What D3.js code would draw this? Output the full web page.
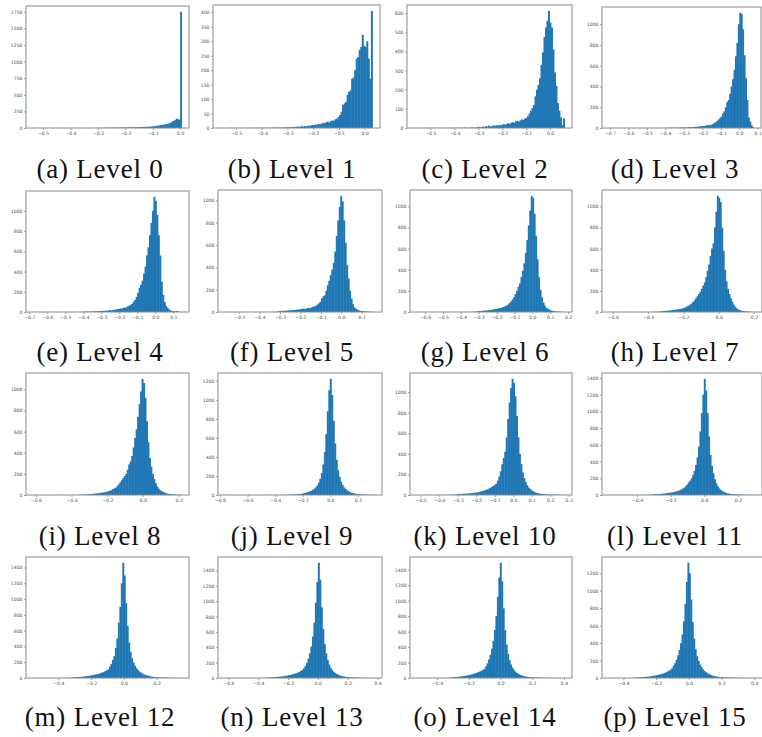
<!DOCTYPE html>
<html>
<head>
<meta charset="utf-8">
<script src="https://cdn.jsdelivr.net/npm/d3@7"></script>
<style>
  body { margin: 0; background: #fff; }
  svg { display: block; }
</style>
</head>
<body>
<svg id="fig" width="762" height="737"></svg>
<script>
// captions
const letters = ["a","b","c","d","e","f","g","h","i","j","k","l","m","n","o","p"];
const levels = ["Level 0","Level 1","Level 2","Level 3","Level 4","Level 5","Level 6","Level 7",
                "Level 8","Level 9","Level 10","Level 11","Level 12","Level 13","Level 14","Level 15"];

// histogram range (first bin start, last bin end) per level, 100 bins each
const binLo = [-0.535,-0.560,-0.566,-0.704,-0.677,-0.567,-0.643,-0.620,-0.614,-0.760,-0.518,-0.565,-0.552,-0.620,-0.524,-0.486];
const binHi = [ 0.005, 0.030, 0.060, 0.079, 0.146, 0.163, 0.181, 0.204, 0.216, 0.320, 0.278, 0.300, 0.352, 0.380, 0.404, 0.415];

// bin counts
const counts0 = [1,0,0,0,0,0,0,0,0,0, 0,0,0,0,0,1,0,0,0,0, 0,0,0,0,0,0,1,0,0,0, 0,0,0,0,0,0,0,1,0,1,
  0,1,2,1,2,3,2,3,4,3, 4,3,5,4,5,6,5,7,6,7, 8,7,9,8,10,9,11,10,12,11, 13,14,13,15,16,17,18,20,19,22,
  25,27,30,33,38,42,46,50,52,56, 62,70,80,95,108,118,140,132,125,1750];
const counts1 = [1,0,0,0,0,0,1,0,0,0, 1,0,0,1,0,0,1,0,1,0, 0,1,0,1,0,1,1,0,1,0, 1,1,0,1,1,2,1,1,2,1, 2,1,2,2,
  2,3,2,3,4,3,5,4,5,6,5,7,6,8,7,9,10,
  10,12,11,14,13,15,18,16,20,22,19,24,26,25,30,32,38,
  45,55,80,85,90,115,125,130,170,175,200,240,245,270,280,322,285,280,300,240,170,405];
const counts2 = [1,0,0,1,0,0,0,1,0,0, 1,0,0,1,0,1,0,0,1,0, 1,0,1,1,0,1,0,1,1,0, 2,1,1,2,1,0,2,1,3,2, 1,3,
  6,3,5,8,4,10,7,12,9,8,14,10,15,12,16,14,
  18,20,17,22,25,20,28,30,27,35,38,33,40,45,42,50,
  52,62,75,90,105,120,165,200,225,260,330,395,475,525,560,612,550,525,410,290,220,130,90,55,15,50];
const counts3 = [1,0,0,0,0,0,0,0,0,0, 0,0,1,0,0,0,0,0,0,0, 0,1,0,0,0,0,0,1,0,0, 0,0,1,0,0,1,0,0,
  1,2,1,2,3,2,3,2,4,3,4,5,4,
  5,6,4,7,8,6,10,9,12,11,14,15,18,
  20,18,22,25,28,26,32,38,45,55,65,80,95,
  110,140,160,200,250,270,330,400,470,560,690,820,1000,1110,1100,950,700,480,270,100,60,25,10];
const counts4 = [1,0,0,0,0,0,0,0,0,0, 0,0,0,0,1,0,0,0,0,0, 0,0,1,0,0,0,0,1,0,0, 1,0,1,
  2,3,4,3,5,4,6,5,7,6,8,9,
  10,12,9,14,12,16,18,15,20,22,25,28,
  30,35,32,40,45,42,55,60,70,80,100,120,
  150,190,240,270,310,380,450,560,640,760,880,1000,1140,1100,960,760,560,300,170,100,60,40,25,15,10,8,5,10,3,2,1];
const counts5 = [1,0,0,0,0,0,0,0,0,0, 0,0,0,1,0,0,0,0,0,0, 1,0,0,0,0,1,0,0,1,0, 0,1,2,1,3,5,
  8,10,9,12,11,13,15,14,16,18,17,20,22,24,
  25,28,30,27,33,36,35,40,45,50,55,65,75,
  90,120,140,150,190,240,280,330,380,440,540,680,820,940,1040,990,820,620,420,300,190,120,70,40,28,20,14,10,8,6,5,4,3,2,2,1,1];
const counts6 = [1,0,0,0,0,0,0,0,0,0, 0,0,0,0,0,0,1,0,0,0, 0,0,0,1,0,0,0,0,1,0, 0,1,0,1,1,2,1,3,2,4,5,
  8,10,9,12,13,15,14,17,19,21,24,27,
  30,32,35,38,42,48,55,62,70,85,100,120,
  140,170,200,240,270,330,390,460,560,680,820,960,1100,1080,930,720,500,330,210,140,90,60,40,30,22,16,12,9,7,5,4,3,2,2,1];
const counts7 = [1,0,0,0,0,0,0,0,0,0, 0,0,0,0,1,0,0,0,0,0, 0,1,0,0,0,1,0,0,1,0, 2,1,3,2,4,5,7,
  10,11,12,14,13,16,18,20,22,24,26,28,30,
  35,40,45,55,60,70,80,95,110,130,150,170,
  190,220,250,280,330,390,450,530,600,650,800,950,1100,1080,1040,800,580,400,290,220,170,130,100,70,50,35,25,18,14,10,8,6,5,4,3,2,1,1];
const counts8 = [1,0,0,0,0,0,0,0,0,0, 0,0,0,0,0,1,0,0,0,0, 0,0,1,0,0,0,1,0,1,0, 1,2,1,3,2,4,6,
  8,9,10,12,13,15,16,18,20,22,25,27,
  30,35,40,45,55,62,70,85,100,120,140,160,
  180,200,240,290,320,370,450,540,620,740,860,980,1100,1060,920,700,500,350,270,200,150,110,80,60,45,35,28,22,16,12,10,8,6,5,4,3,2,2,1];
const counts9 = [1,0,0,0,0,0,0,0,0,0, 0,0,0,0,0,1,0,0,0,0, 0,0,0,0,0,0,1,0,0,0, 0,0,1,0,0,0,1,0,1,1,
  2,1,3,2,4,3,5,6,8,10,12,14,
  18,22,26,32,38,45,55,65,
  80,100,130,170,230,320,450,640,880,1100,1220,1050,780,540,370,260,190,140,105,80,
  62,48,38,30,24,19,15,12,10,8,6,5,4,3,3,2,2,1,1,1];
const counts10 = [1,0,0,0,0,0,0,1,0,0, 0,0,1,0,0,0,1,0,1,0, 1,2,1,2,3,4,5,
  8,9,10,11,12,13,14,15,16,18,20,21,23,
  25,28,32,35,40,45,50,55,62,70,78,88,98,
  110,140,180,230,300,360,420,560,740,900,1040,1130,1090,960,770,560,400,300,220,165,
  125,95,72,58,46,36,29,23,18,15,12,10,9,8,7,6,5,4,4,3,3,2,2,2,1,1,1];
const counts11 = [1,0,0,0,0,0,0,0,0,1, 0,0,0,0,1,0,0,0,1,0, 0,1,0,1,0,2,1,3,4,6,
  8,9,10,11,12,14,15,17,19,22,25,27,
  30,33,36,40,45,50,58,66,76,88,105,125,
  150,170,200,240,290,360,450,580,760,980,1200,1390,1250,980,700,480,350,260,190,140,
  105,80,62,48,38,30,24,19,15,12,10,8,7,6,5,4,4,3,3,2,2,2,1,1,1,1];
const counts12 = [1,0,0,0,0,0,0,0,1,0, 0,0,0,1,0,0,0,1,0,1, 0,2,1,2,3,4,6,8,
  10,11,13,14,16,18,20,22,25,28,32,
  35,38,42,46,50,55,62,70,78,88,98,
  110,145,180,230,280,380,500,700,900,1200,1460,1300,950,660,450,330,250,195,155,125,
  100,82,68,56,46,38,32,27,22,18,15,13,11,9,8,7,6,5,5,4,3,3,2,2,2,1,1,1,0,1];
const counts13 = [1,0,0,0,0,0,0,0,0,0, 1,0,0,0,0,0,1,0,0,1, 0,0,1,0,1,2,1,3,4,6,
  8,10,11,12,14,15,17,19,22,25,28,
  32,36,40,45,50,56,63,70,80,92,105,
  125,155,195,250,320,410,540,720,980,1250,1500,1280,920,640,440,320,235,175,135,105,
  82,65,52,42,34,28,23,19,16,13,11,9,8,7,6,5,4,4,3,3,2,2,2,1,1,1,0,1];
const counts14 = [1,0,0,0,0,0,0,1,0,0, 0,0,1,0,0,1,0,1,0,2, 1,3,4,6,
  10,11,13,15,17,19,22,25,28,32,
  35,40,45,50,56,62,70,78,86,95,105,
  120,150,190,240,300,380,480,620,800,1050,1300,1490,1250,900,620,430,310,230,175,135,
  105,82,65,52,42,34,28,23,19,16,13,11,9,8,7,6,5,4,4,3,3,2,2,2,1,1,1,1,0,1,0,1,0,0,1];
const counts15 = [1,0,0,0,0,1,0,0,0,0, 1,0,0,1,0,1,2,3,4,6,
  8,9,10,11,12,14,16,18,21,24,27,
  30,34,38,42,47,52,58,65,74,84,95,
  110,140,170,210,260,320,400,500,650,850,1100,1320,1200,900,640,450,330,250,195,155,
  125,100,82,67,55,45,37,30,25,21,17,14,12,10,9,8,7,6,5,5,4,4,3,3,2,2,2,2,1,1,1,1,1,0,1,0,1,1];
const allCounts = [counts0,counts1,counts2,counts3,counts4,counts5,counts6,counts7,
                   counts8,counts9,counts10,counts11,counts12,counts13,counts14,counts15];

// tick labels
const xTicks = [
  [-0.5,-0.4,-0.3,-0.2,-0.1,0.0],
  [-0.5,-0.4,-0.3,-0.2,-0.1,0.0],
  [-0.5,-0.4,-0.3,-0.2,-0.1,0.0],
  [-0.7,-0.6,-0.5,-0.4,-0.3,-0.2,-0.1,0.0,0.1],
  [-0.7,-0.6,-0.5,-0.4,-0.3,-0.2,-0.1,0.0,0.1],
  [-0.5,-0.4,-0.3,-0.2,-0.1,0.0,0.1],
  [-0.6,-0.5,-0.4,-0.3,-0.2,-0.1,0.0,0.1,0.2],
  [-0.6,-0.4,-0.2,0.0,0.2],
  [-0.6,-0.4,-0.2,0.0,0.2],
  [-0.8,-0.6,-0.4,-0.2,0.0,0.2],
  [-0.5,-0.4,-0.3,-0.2,-0.1,0.0,0.1,0.2,0.3],
  [-0.4,-0.2,0.0,0.2],
  [-0.4,-0.2,0.0,0.2],
  [-0.6,-0.4,-0.2,0.0,0.2,0.4],
  [-0.4,-0.2,0.0,0.2,0.4],
  [-0.4,-0.2,0.0,0.2,0.4]
];
const yStep = [250,50,100,200,200,200,200,200,200,200,200,200,200,200,200,200];

// axes frame of each panel in page pixels: left, top, right, bottom
const frames = [
  [26,6,189,128],[213,5,380,128],[407,5,572,128],[602,7,761,128],
  [26,191,189,312],[218,190,382,312],[410,190,572,312],[602,190,762,312],
  [26,373,189,495],[218,373,382,495],[410,373,572,495],[602,373,762,495],
  [26,557,189,678],[218,557,382,678],[410,557,572,678],[602,557,764,678]
];
const captionX = [100,292,485,675];
const captionY = [178,361,545,726];

const svg = d3.select("#fig");
const fmtX = d3.format(".1f");

allCounts.forEach((counts, p) => {
  let [l, t, r, b] = frames[p];
  let lo = binLo[p], hi = binHi[p], n = counts.length, w = (hi - lo) / n;
  let pad = (hi - lo) * 0.05;
  let ymax = d3.max(counts) * 1.05;

  let x = d3.scaleLinear().domain([lo - pad, hi + pad]).range([l, r]);
  let y = d3.scaleLinear().domain([0, ymax]).range([b, t]);

  let g = svg.append("g");
  g.append("defs").append("clipPath").attr("id", "clip" + p)
    .append("rect").attr("x", l).attr("y", t).attr("width", r - l).attr("height", b - t);

  g.append("g").attr("clip-path", "url(#clip" + p + ")")
    .selectAll("rect").data(counts.map((c, i) => ({i: i, c: c})).filter(d => d.c > 0)).enter().append("rect")
    .attr("x", d => x(lo + d.i * w)).attr("width", d => x(lo + (d.i + 1) * w) - x(lo + d.i * w) + 0.45)
    .attr("y", d => y(d.c)).attr("height", d => y(0) - y(d.c))
    .style("fill", "#1f77b4");

  let xa = g.append("g").attr("transform", "translate(0," + b + ")")
    .call(d3.axisBottom(x).tickValues(xTicks[p]).tickFormat(fmtX).tickSize(2).tickPadding(1.5));
  let yt = d3.range(0, ymax, yStep[p]);
  let ya = g.append("g").attr("transform", "translate(" + l + ",0)")
    .call(d3.axisLeft(y).tickValues(yt).tickFormat(d3.format("d")).tickSize(2).tickPadding(1.5));
  [xa, ya].forEach(a => {
    a.select(".domain").remove();
    a.selectAll("line").style("stroke", "#666").style("stroke-width", 0.6);
    a.selectAll("text").style("font-family", "DejaVu Sans").style("font-size", "4.6px").style("fill", "#555");
  });

  g.append("rect").attr("x", l).attr("y", t).attr("width", r - l).attr("height", b - t)
    .style("fill", "none").style("stroke", "#8a8a8a").style("stroke-width", 1);

  svg.append("text")
    .attr("x", captionX[p % 4]).attr("y", captionY[Math.floor(p / 4)])
    .attr("text-anchor", "middle")
    .style("font-family", "Liberation Serif").style("font-size", "27px")
    .style("letter-spacing", "0.8px").style("fill", "#111")
    .text("(" + letters[p] + ") " + levels[p]);
});
</script>
</body>
</html>
